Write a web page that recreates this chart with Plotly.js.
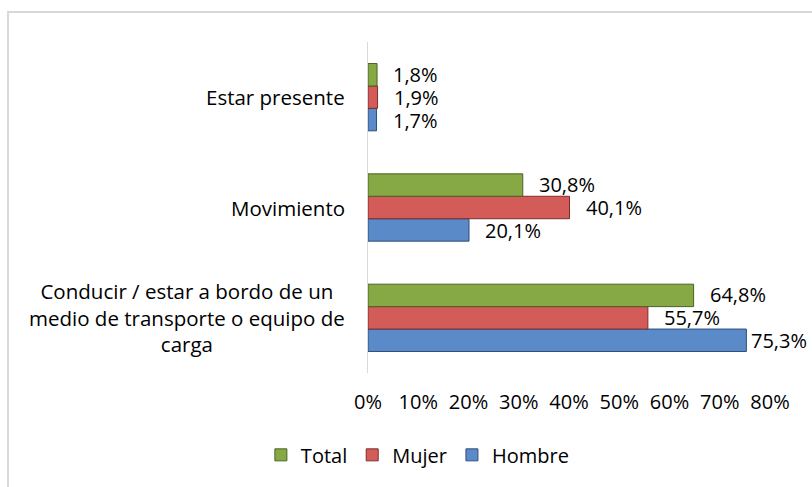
<!DOCTYPE html>
<html>
<head>
<meta charset="utf-8">
<script src="https://cdn.plot.ly/plotly-3.0.1.min.js"></script>
<style>html,body{margin:0;padding:0;background:#fff;}#chart{width:812px;height:487px;}</style>
</head>
<body>
<div id="chart"></div>
<script>
const categories = [
  "Conducir / estar a bordo de un<br>medio de transporte o equipo de<br>carga",
  "Movimiento",
  "Estar presente"
];
const hombre = [0.753, 0.201, 0.017];
const mujer  = [0.557, 0.401, 0.019];
const total  = [0.648, 0.308, 0.018];
const xTicks = [0, 0.1, 0.2, 0.3, 0.4, 0.5, 0.6, 0.7, 0.8];
const xTickLabels = ["0%", "10%", "20%", "30%", "40%", "50%", "60%", "70%", "80%"];

const FONT = "'Open Sans', Lato, sans-serif";
const FS = 20;
const fmt = v => (v * 100).toFixed(1).replace(".", ",") + "%";

const W = 812, ML = 368, MR = 42;
const plotW = W - ML - MR;
const xMax = 0.8;

function series(name, vals, fill, edge) {
  return {
    type: "bar", orientation: "h", name: name,
    x: vals, y: categories,
    marker: {color: fill, line: {color: edge, width: 1}},
    hoverinfo: "skip"
  };
}

const data = [
  series("Hombre", hombre, "#5A8AC8", "#2E4F7A"),
  series("Mujer", mujer, "#D35C59", "#7F2D2B"),
  series("Total", total, "#86A845", "#4A6322")
];

const annotations = categories.map(c => ({
  xref: "paper", yref: "y", x: 0, y: c, xshift: -22,
  xanchor: "right", yanchor: "middle", align: "center",
  text: c, showarrow: false, borderpad: 0,
  font: {family: FONT, size: 20.5, color: "#000"}
}));

// data labels: keep a gap after the bar, but pull in labels that would run off the page
const labelW = 58;
const labelSets = [[hombre, -23], [mujer, 0], [total, 23]];
labelSets.forEach(([vals, dy]) => {
  vals.forEach((v, i) => {
    const barEnd = ML + v / xMax * plotW;
    const shift = Math.min(15, Math.max(3, W - 4 - labelW - barEnd));
    annotations.push({
      xref: "x", yref: "y", x: v, y: categories[i],
      xshift: shift, yshift: dy, xanchor: "left", yanchor: "middle",
      text: fmt(v), showarrow: false, borderpad: 0,
      font: {family: FONT, size: FS, color: "#000"}
    });
  });
});

const layout = {
  width: W, height: 487,
  margin: {l: ML, r: MR, t: 42, b: 114},
  paper_bgcolor: "#fff", plot_bgcolor: "#fff",
  font: {family: FONT, size: FS, color: "#000"},
  barmode: "group", bargap: 0.39, bargroupgap: 0,
  xaxis: {
    range: [0, xMax], tickvals: xTicks, ticktext: xTickLabels,
    showgrid: false, zeroline: false, showline: false, ticks: "",
    ticklabelstandoff: 15,
    tickfont: {family: FONT, size: FS, color: "#000"}
  },
  yaxis: {
    showticklabels: false, showgrid: false, zeroline: false,
    showline: true, linecolor: "#d9d9d9", linewidth: 1, ticks: ""
  },
  showlegend: true,
  legend: {
    orientation: "h", traceorder: "reversed",
    xref: "container", yref: "container",
    x: 0.514, xanchor: "center", y: 0.066, yanchor: "middle",
    font: {family: FONT, size: FS, color: "#000"},
    itemwidth: 30
  },
  annotations: annotations,
  shapes: [{
    type: "rect", xref: "paper", yref: "paper",
    x0: -0.8955, x1: 2, y0: -1, y1: 1.0906,
    line: {color: "#d9d9d9", width: 2}, fillcolor: "rgba(0,0,0,0)", layer: "below"
  }]
};

Plotly.newPlot("chart", data, layout, {displayModeBar: false, staticPlot: true});
</script>
</body>
</html>
